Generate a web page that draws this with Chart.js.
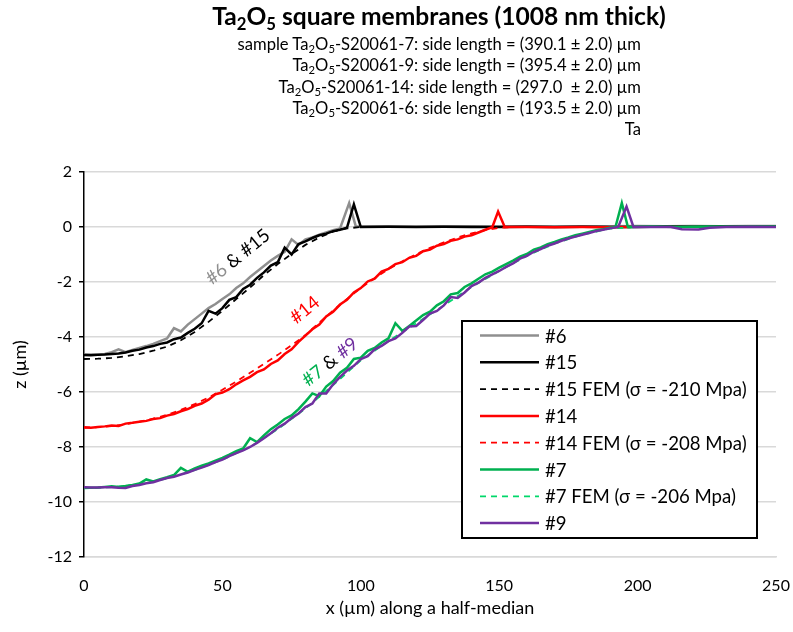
<!DOCTYPE html>
<html>
<head>
<meta charset="utf-8">
<script src="https://cdn.jsdelivr.net/npm/chart.js@4.4.0/dist/chart.umd.min.js"></script>
<style>
  body { margin: 0; background: #fff; }
  #wrap { position: relative; width: 793px; height: 632px; font-family: Lato, "Open Sans", sans-serif; color: #000; }
  #title { position: absolute; left: 0; width: 878px; top: 1px; text-align: center; font-weight: bold; font-size: 24.6px; white-space: nowrap; }
  #sub { position: absolute; right: 152px; top: 34px; text-align: right; font-size: 16.6px; line-height: 21.3px; white-space: pre; }
  sub { font-size: 68%; vertical-align: -0.3em; line-height: 0; }
  canvas { position: absolute; left: 0; top: 0; }
</style>
</head>
<body>
<div id="wrap">
  <canvas id="chart" width="793" height="632"></canvas>
  <div id="title">Ta<sub>2</sub>O<sub>5</sub> square membranes (1008 nm thick)</div>
  <div id="sub">sample Ta<sub>2</sub>O<sub>5</sub>-S20061-7: side length = (390.1 ± 2.0) µm
Ta<sub>2</sub>O<sub>5</sub>-S20061-9: side length = (395.4 ± 2.0) µm
Ta<sub>2</sub>O<sub>5</sub>-S20061-14: side length = (297.0  ± 2.0) µm
Ta<sub>2</sub>O<sub>5</sub>-S20061-6: side length = (193.5 ± 2.0) µm
Ta</div>
</div>
<script>
// x positions (µm) and heights z (µm)
const x6 = [0,2.5,5,7.5,10,12.5,15,17.5,20,22.5,25,27.5,30,32.5,35,37.5,40,42.5,45,47.5,50,52.5,55,57.5,60,62.5,65,67.5,70,72.5,75,77.5,80,82.5,85,87.5,90,92.5,95.8,98.2,110,120,130,140,150,160,170,180,190,200,210,220,230,240,250];
const z6 = [-4.64,-4.64,-4.63,-4.62,-4.55,-4.45,-4.55,-4.47,-4.40,-4.33,-4.25,-4.15,-4.05,-3.68,-3.80,-3.55,-3.35,-3.15,-2.95,-2.80,-2.62,-2.45,-2.22,-2.05,-1.82,-1.62,-1.42,-1.22,-1.05,-0.90,-0.45,-0.65,-0.45,-0.38,-0.28,-0.20,-0.12,-0.05,0.87,0.02,0.03,0.02,0.03,0.03,0.02,0.03,0.02,0.03,0.03,0.04,0.03,0.04,0.03,0.04,0.04];

const x15 = [0,2.5,5,7.5,10,12.5,15,17.5,20,22.5,25,27.5,30,32.5,35,37.5,40,42.5,45,47.5,50,52.5,55,57.5,60,62.5,65,67.5,70,72.5,75,77.5,80,82.5,85,87.5,90,92.5,95,97.5,100,110,120,130,140,150,160,170,180,190,200,210,220,230,240,250];
const z15 = [-4.65,-4.66,-4.65,-4.64,-4.62,-4.60,-4.56,-4.50,-4.46,-4.38,-4.33,-4.25,-4.20,-4.08,-4.02,-3.85,-3.70,-3.50,-3.05,-3.15,-2.95,-2.65,-2.55,-2.25,-2.10,-1.85,-1.65,-1.40,-1.28,-0.75,-1.00,-0.62,-0.52,-0.40,-0.30,-0.24,-0.15,-0.10,-0.03,0.82,0.00,0.01,0.00,0.01,0.00,0.00,0.01,0.00,0.01,0.00,0.00,0.02,0.01,0.02,0.01,0.02];

const x15fem = [0,5,10,15,20,25,30,35,40,45,50,55,60,65,70,75,80,85,90,95,100];
const z15fem = [-4.80,-4.79,-4.76,-4.70,-4.62,-4.50,-4.35,-4.12,-3.82,-3.45,-3.05,-2.62,-2.20,-1.75,-1.35,-0.98,-0.65,-0.38,-0.17,-0.05,0.00];

const x14 = [0,2.5,5,7.5,10,12.5,15,17.5,20,22.5,25,27.5,30,32.5,35,37.5,40,42.5,45,47.5,50,52.5,55,57.5,60,62.5,65,67.5,70,72.5,75,77.5,80,82.5,85,87.5,90,92.5,95,97.5,100,102.5,105,107.5,110,112.5,115,117.5,120,122.5,125,127.5,130,132.5,135,137.5,140,142.5,145,147.5,149.6,152,160,170,180,190,197.5];
const z14 = [-7.28,-7.30,-7.27,-7.25,-7.22,-7.24,-7.15,-7.12,-7.08,-7.05,-6.98,-6.95,-6.86,-6.80,-6.70,-6.62,-6.50,-6.42,-6.28,-6.08,-6.02,-5.90,-5.72,-5.58,-5.45,-5.28,-5.18,-4.98,-4.85,-4.62,-4.45,-4.18,-3.95,-3.72,-3.55,-3.25,-3.08,-2.82,-2.65,-2.38,-2.22,-1.98,-1.88,-1.62,-1.52,-1.35,-1.28,-1.12,-1.05,-0.88,-0.82,-0.68,-0.62,-0.50,-0.45,-0.35,-0.30,-0.20,-0.10,-0.01,0.56,0.00,0.00,-0.01,0.00,-0.01,0.00];

const x14fem = [0,5,10,15,20,25,30,35,40,45,50,55,60,65,70,75,80,85,90,95,100,105,110,115,120,125,130,135,140,145,150,155];
const z14fem = [-7.30,-7.28,-7.24,-7.17,-7.08,-6.97,-6.83,-6.65,-6.44,-6.20,-5.92,-5.62,-5.30,-4.98,-4.65,-4.30,-3.93,-3.48,-3.04,-2.62,-2.22,-1.86,-1.53,-1.25,-0.99,-0.76,-0.56,-0.38,-0.23,-0.11,-0.03,0.00];

const x7 = [0,2.5,5,7.5,10,12.5,15,17.5,20,22.5,25,27.5,30,32.5,35,37.5,40,42.5,45,47.5,50,52.5,55,57.5,60,62.5,65,67.5,70,72.5,75,77.5,80,82.5,85,87.5,90,92.5,95,97.5,100,102.5,105,107.5,110,112.5,115,117.5,120,122.5,125,127.5,130,132.5,135,137.5,140,142.5,145,147.5,150,152.5,155,157.5,160,162.5,165,167.5,170,172.5,175,177.5,180,182.5,185,187.5,190,192,194.3,196.5,205,215,225,235,250];
const z7 = [-9.48,-9.48,-9.47,-9.45,-9.43,-9.45,-9.42,-9.38,-9.33,-9.18,-9.25,-9.17,-9.10,-9.02,-8.76,-8.90,-8.78,-8.68,-8.60,-8.50,-8.40,-8.28,-8.15,-8.05,-7.68,-7.82,-7.58,-7.35,-7.18,-6.98,-6.85,-6.62,-6.35,-6.05,-6.15,-5.80,-5.60,-5.30,-5.12,-4.80,-4.75,-4.50,-4.40,-4.20,-4.05,-3.50,-3.78,-3.60,-3.40,-3.20,-3.08,-2.85,-2.70,-2.45,-2.40,-2.18,-2.05,-1.88,-1.72,-1.62,-1.48,-1.35,-1.22,-1.08,-0.98,-0.82,-0.74,-0.62,-0.54,-0.45,-0.38,-0.30,-0.24,-0.18,-0.12,-0.08,-0.03,0.00,0.87,0.00,0.02,0.00,0.02,0.01,0.02];

const x7fem = [0,10,20,30,40,50,60,70,80,90,100,110,120,130,140,150,160,170,180,190,200];
const z7fem = [-9.50,-9.46,-9.36,-9.14,-8.84,-8.46,-8.00,-7.35,-6.60,-5.75,-4.85,-4.15,-3.50,-2.85,-2.18,-1.60,-1.05,-0.60,-0.28,-0.06,0.00];

const x9 = [0,2.5,5,7.5,10,12.5,15,17.5,20,22.5,25,27.5,30,32.5,35,37.5,40,42.5,45,47.5,50,52.5,55,57.5,60,62.5,65,67.5,70,72.5,75,77.5,80,82.5,85,87.5,90,92.5,95,97.5,100,102.5,105,107.5,110,112.5,115,117.5,120,122.5,125,127.5,130,132.5,135,137.5,140,142.5,145,147.5,150,152.5,155,157.5,160,162.5,165,167.5,170,172.5,175,177.5,180,182.5,185,187.5,190,193,196,198.5,205,212,216,222,226,232,240,250];
const z9 = [-9.46,-9.47,-9.47,-9.46,-9.46,-9.48,-9.49,-9.42,-9.38,-9.32,-9.28,-9.20,-9.13,-9.08,-9.00,-8.93,-8.83,-8.75,-8.66,-8.55,-8.46,-8.33,-8.22,-8.12,-8.00,-7.85,-7.68,-7.50,-7.30,-7.15,-6.95,-6.78,-6.55,-6.42,-6.05,-6.05,-5.72,-5.45,-5.22,-5.05,-4.80,-4.70,-4.45,-4.32,-4.15,-4.05,-3.85,-3.62,-3.60,-3.38,-3.15,-3.05,-2.85,-2.55,-2.58,-2.38,-2.15,-2.02,-1.85,-1.72,-1.60,-1.45,-1.32,-1.15,-1.05,-0.90,-0.80,-0.68,-0.60,-0.50,-0.42,-0.35,-0.28,-0.22,-0.15,-0.10,-0.05,0.00,0.74,0.00,0.00,0.00,-0.08,-0.09,-0.03,0.00,0.01,0.00];

const xTicks = [0, 50, 100, 150, 200, 250];
const zTicks = [-12, -10, -8, -6, -4, -2, 0, 2];

const pts = (xs, zs) => xs.map((x, i) => ({ x, y: zs[i] }));

const series = [
  { label: '#6', data: pts(x6, z6), color: '#8f8f8f', dash: [], width: 2.5, order: 7 },
  { label: '#15', data: pts(x15, z15), color: '#000000', dash: [], width: 2.5, order: 5 },
  { label: '#15 FEM (σ = -210 Mpa)', data: pts(x15fem, z15fem), color: '#000000', dash: [6, 5], width: 1.8, order: 6 },
  { label: '#14', data: pts(x14, z14), color: '#ff0000', dash: [], width: 2.5, order: 3 },
  { label: '#14 FEM (σ = -208 Mpa)', data: pts(x14fem, z14fem), color: '#ff0000', dash: [6, 5], width: 1.8, order: 4 },
  { label: '#7', data: pts(x7, z7), color: '#00b050', dash: [], width: 2.5, order: 1 },
  { label: '#7 FEM (σ = -206 Mpa)', data: pts(x7fem, z7fem), color: '#00d86a', dash: [6, 5], width: 1.8, order: 2 },
  { label: '#9', data: pts(x9, z9), color: '#7030a0', dash: [], width: 2.5, order: 0 }
];

const notes = [
  { x: 55.6, z: -1.09, parts: [['#6', '#8f8f8f'], [' & ', '#000'], ['#15', '#000']] },
  { x: 79.8, z: -3.02, parts: [['#14', '#ff0000']] },
  { x: 88.9, z: -4.91, parts: [['#7', '#00b050'], [' & ', '#000'], ['#9', '#7030a0']] }
];

const FONT = 'Lato, "Open Sans", sans-serif';
Chart.defaults.font.family = FONT;
Chart.defaults.color = '#000';

// rotated labels next to the curves
const notesPlugin = {
  id: 'notes',
  afterDatasetsDraw(chart) {
    const { ctx, scales } = chart;
    ctx.save();
    ctx.font = '18.5px ' + FONT;
    ctx.textBaseline = 'middle';
    notes.forEach(n => {
      const px = scales.x.getPixelForValue(n.x);
      const py = scales.y.getPixelForValue(n.z);
      const total = n.parts.reduce((s, p) => s + ctx.measureText(p[0]).width, 0);
      ctx.save();
      ctx.translate(px, py);
      ctx.rotate(-39 * Math.PI / 180);
      let cx = -total / 2;
      n.parts.forEach(([t, c]) => {
        ctx.fillStyle = c;
        ctx.fillText(t, cx, 0);
        cx += ctx.measureText(t).width;
      });
      ctx.restore();
    });
    ctx.restore();
  }
};

// boxed legend inside the plot
const legendPlugin = {
  id: 'boxLegend',
  afterDraw(chart) {
    const ctx = chart.ctx;
    const left = 462, top = 321, w = 295, h = 217;
    ctx.save();
    ctx.fillStyle = '#fff';
    ctx.fillRect(left, top, w, h);
    ctx.strokeStyle = '#000';
    ctx.lineWidth = 2;
    ctx.strokeRect(left, top, w, h);
    ctx.font = '18.6px ' + FONT;
    ctx.textBaseline = 'middle';
    chart.data.datasets.forEach((ds, i) => {
      const y = 335.5 + i * 26.8;
      ctx.strokeStyle = ds.borderColor;
      ctx.lineWidth = ds.borderWidth;
      ctx.setLineDash(ds.borderDash);
      ctx.beginPath();
      ctx.moveTo(480, y);
      ctx.lineTo(539, y);
      ctx.stroke();
      ctx.setLineDash([]);
      ctx.fillStyle = '#000';
      ctx.fillText(ds.label, 545, y + 1);
    });
    ctx.restore();
  }
};

new Chart(document.getElementById('chart'), {
  type: 'line',
  data: {
    datasets: series.map(s => ({
      label: s.label,
      data: s.data,
      borderColor: s.color,
      borderDash: s.dash,
      borderWidth: s.width,
      order: s.order,
      pointRadius: 0,
      tension: 0,
      fill: false
    }))
  },
  options: {
    responsive: false,
    animation: false,
    layout: { padding: { left: 0, top: 172, right: 17, bottom: 0 } },
    plugins: { legend: { display: false }, tooltip: { enabled: false } },
    scales: {
      x: {
        type: 'linear',
        min: 0, max: 250,
        afterBuildTicks: s => { s.ticks = xTicks.map(v => ({ value: v })); },
        afterFit: s => { s.height = 75; s.paddingLeft = 0; s.paddingRight = 0; },
        grid: { display: false },
        border: { color: '#d9d9d9', width: 1.5 },
        ticks: { font: { size: 16 }, padding: 11, color: '#000' },
        title: { display: true, text: 'x (µm) along a half-median', font: { size: 18 }, padding: { top: 0, bottom: 13 } }
      },
      y: {
        min: -12, max: 2,
        afterBuildTicks: s => { s.ticks = zTicks.map(v => ({ value: v })); },
        afterFit: s => { s.width = 84; },
        grid: { color: '#d9d9d9', lineWidth: 1.5, tickColor: '#000', tickLength: 5, tickWidth: 1.5 },
        border: { color: '#000', width: 1.5 },
        ticks: { font: { size: 16 }, padding: 7, color: '#000' },
        title: { display: true, text: 'z (µm)', font: { size: 18 }, padding: { top: 9, bottom: 0 } }
      }
    }
  },
  plugins: [notesPlugin, legendPlugin]
});
</script>
</body>
</html>
